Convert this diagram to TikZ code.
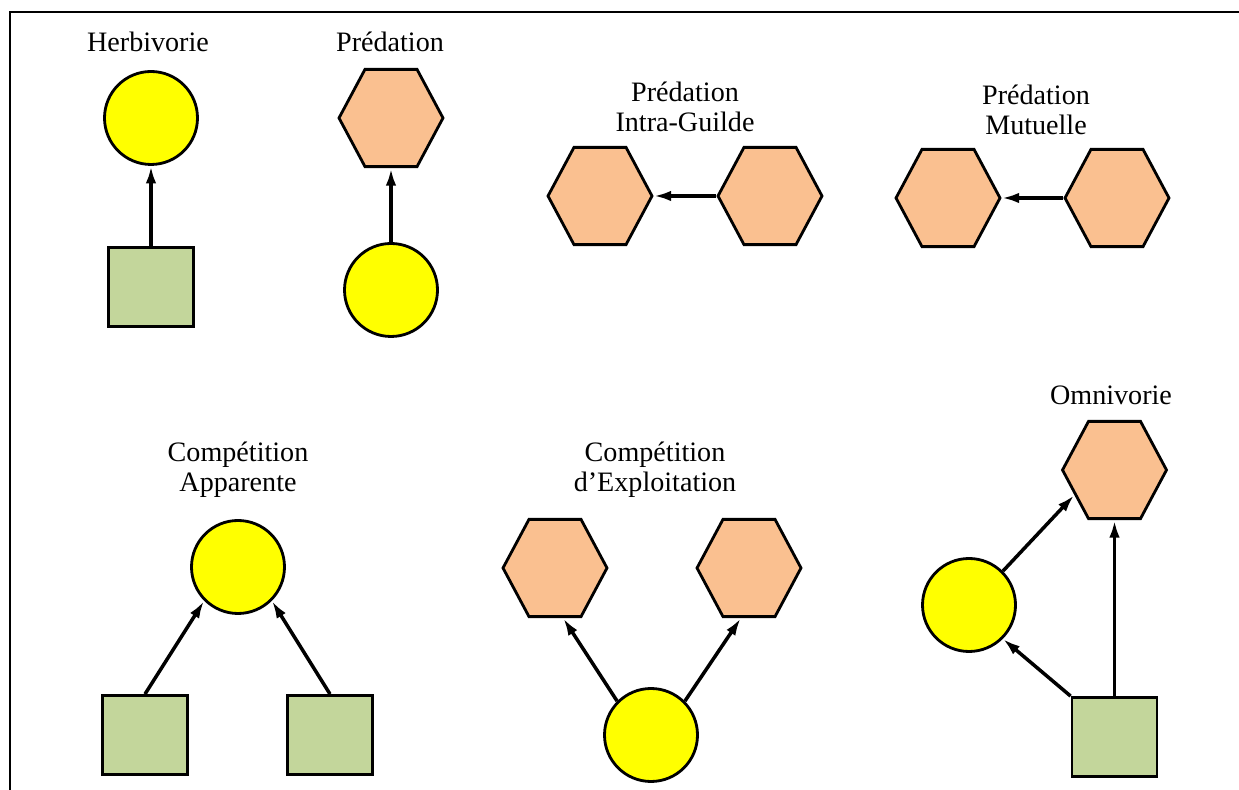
\documentclass[tikz,border=0pt]{standalone}
\usepackage{fontspec}
\setmainfont{Liberation Serif}
\usepackage{tikz}
\usetikzlibrary{
  positioning, arrows.meta,
  shapes.geometric
}
\definecolor{proie}{HTML}{FFFF00}
\definecolor{predateur}{HTML}{FAC090}
\definecolor{plante}{HTML}{C3D69B}

\tikzset{
  prey/.style={circle, draw, line width=1.6pt, fill=proie, minimum size=1.86cm, inner sep=0pt},
  pred/.style={regular polygon, regular polygon sides=6, draw, line width=1.6pt, fill=predateur, minimum size=2.08cm, inner sep=0pt, yscale=1.08, transform shape},
  res/.style={rectangle, draw, line width=1.6pt, fill=plante, minimum width=1.7cm, minimum height=1.58cm, inner sep=0pt},
  titre/.style={align=center, font=\fontsize{16}{17}\selectfont},
  flux/.style={-{Latex[length=10pt,width=6pt]}, line width=2pt}
}

\begin{document}
\begin{tikzpicture}
      \useasboundingbox (0,0) rectangle (24.78,15.8);
      \draw[line width=1.5pt] (0.2,0) -- (0.2,15.56) -- (24.78,15.56);

      % herbivorie
      \node[titre] (t1) at (2.96,14.96) {Herbivorie};
      \node[prey] (h1) at (3.02,13.44) {};
      \node[res] (r1) at (3.02,10.06) {};
      \draw[flux] (r1.north) -- (h1.south);

      % predation
      \node[titre] (t2) at (7.8,14.96) {Prédation};
      \node[pred] (p2) at (7.82,13.44) {};
      \node[prey] (h2) at (7.82,10.0) {};
      \draw[flux] (h2.north) -- (p2.south);

      % predation intra-guilde
      \node[titre] (t3) at (13.7,13.66) {Prédation\\Intra-Guilde};
      \node[pred] (p3a) at (12.0,11.88) {};
      \node[pred] (p3b) at (15.4,11.88) {};
      \draw[flux] (p3b.west) -- (p3a.east);

      % predation mutuelle
      \node[titre] (t4) at (20.72,13.6) {Prédation\\Mutuelle};
      \node[pred] (p4a) at (18.96,11.84) {};
      \node[pred] (p4b) at (22.34,11.84) {};
      \draw[flux] (p4b.west) -- (p4a.east);

      % competition apparente
      \node[titre] (t5) at (4.76,6.4) {Compétition\\Apparente};
      \node[prey] (h5) at (4.76,4.46) {};
      \node[res] (r5a) at (2.9,1.1) {};
      \node[res] (r5b) at (6.6,1.1) {};
      \draw[flux] (r5a.north) -- (h5.south west);
      \draw[flux] (r5b.north) -- (h5.south east);

      % competition d'exploitation
      \node[titre] (t6) at (13.1,6.4) {Compétition\\d’Exploitation};
      \node[pred] (p6a) at (11.1,4.44) {};
      \node[pred] (p6b) at (14.98,4.44) {};
      \node[prey] (h6) at (13.02,1.1) {};
      \draw[flux] (h6.north west) -- (p6a.-80);
      \draw[flux] (h6.north east) -- (p6b.-100);

      % omnivorie
      \node[titre] (t7) at (22.22,7.9) {Omnivorie};
      \node[pred] (p7) at (22.29,6.4) {};
      \node[prey] (h7) at (19.38,3.7) {};
      \node[res] (r7) at (22.29,1.06) {};
      \draw[flux] (r7.north) -- (p7.south);
      \draw[flux] (r7.north west) -- (h7.south east);
      \draw[flux] (h7.north east) -- (p7.210);
    \end{tikzpicture}
\end{document}
